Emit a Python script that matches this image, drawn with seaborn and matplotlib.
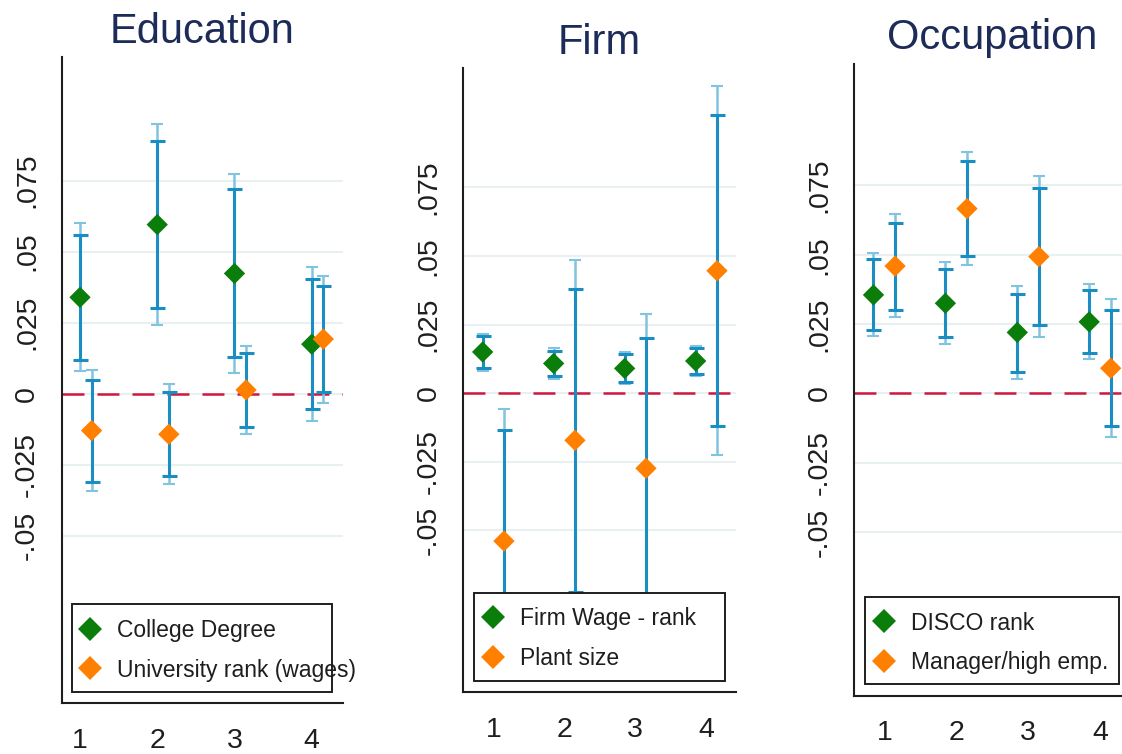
import numpy as np
import pandas as pd
import matplotlib
matplotlib.use("Agg")
import matplotlib.pyplot as plt
from matplotlib.lines import Line2D
from matplotlib.patches import Rectangle
import seaborn as sns

# ---------------------------------------------------------------- data
groups = [1, 2, 3, 4]
group_labels = ["1", "2", "3", "4"]
ytick_vals = [-0.05, -0.025, 0.0, 0.025, 0.05, 0.075]
ytick_labels = ["-.05", "-.025", "0", ".025", ".05", ".075"]
panel_titles = ["Education", "Firm", "Occupation"]

# Education
edu_names = ["College Degree", "University rank (wages)"]
edu_college_est = [0.0339, 0.0595, 0.0423, 0.0174]
edu_college_lo90 = [0.0119, 0.0300, 0.0129, -0.0054]
edu_college_hi90 = [0.0560, 0.0891, 0.0719, 0.0402]
edu_college_lo95 = [0.0078, 0.0242, 0.0073, -0.0095]
edu_college_hi95 = [0.0602, 0.0948, 0.0774, 0.0445]
edu_univ_est = [-0.0130, -0.0143, 0.0013, 0.0192]
edu_univ_lo90 = [-0.0310, -0.0290, -0.0118, 0.0005]
edu_univ_hi90 = [0.0048, 0.0006, 0.0143, 0.0379]
edu_univ_lo95 = [-0.0344, -0.0317, -0.0143, -0.0033]
edu_univ_hi95 = [0.0082, 0.0034, 0.0168, 0.0414]

# Firm
firm_names = ["Firm Wage - rank", "Plant size"]
firm_wage_est = [0.0150, 0.0108, 0.0090, 0.0117]
firm_wage_lo90 = [0.0092, 0.0062, 0.0040, 0.0069]
firm_wage_hi90 = [0.0209, 0.0155, 0.0141, 0.0163]
firm_wage_lo95 = [0.0082, 0.0053, 0.0033, 0.0062]
firm_wage_hi95 = [0.0217, 0.0163, 0.0150, 0.0172]
firm_plant_est = [-0.0539, -0.0172, -0.0274, 0.0446]
firm_plant_lo90 = [-0.0944, -0.0723, -0.0749, -0.0119]
firm_plant_hi90 = [-0.0134, 0.0379, 0.0201, 0.1013]
firm_plant_lo95 = [-0.1019, -0.0828, -0.0837, -0.0225]
firm_plant_hi95 = [-0.0059, 0.0484, 0.0289, 0.1118]

# Occupation
occ_names = ["DISCO rank", "Manager/high emp."]
occ_disco_est = [0.0355, 0.0325, 0.0220, 0.0258]
occ_disco_lo90 = [0.0230, 0.0202, 0.0078, 0.0146]
occ_disco_hi90 = [0.0483, 0.0450, 0.0360, 0.0373]
occ_disco_lo95 = [0.0206, 0.0178, 0.0052, 0.0125]
occ_disco_hi95 = [0.0507, 0.0474, 0.0388, 0.0395]
occ_mgr_est = [0.0459, 0.0666, 0.0493, 0.0091]
occ_mgr_lo90 = [0.0302, 0.0495, 0.0248, -0.0116]
occ_mgr_hi90 = [0.0616, 0.0838, 0.0739, 0.0300]
occ_mgr_lo95 = [0.0274, 0.0463, 0.0203, -0.0156]
occ_mgr_hi95 = [0.0648, 0.0871, 0.0784, 0.0339]

# ---------------------------------------------------------------- style
sns.set_theme(style="white")
plt.rcParams["font.family"] = ["Liberation Sans", "DejaVu Sans"]
plt.rcParams["lines.scale_dashes"] = False

GREEN = "#0b7d0b"
ORANGE = "#ff8000"
CI_DARK = "#1a8dc3"
CI_LIGHT = "#80c4df"
ZERO_RED = "#d0173f"
GRID = "#e8f0f2"
TITLE = "#1c2b58"
INK = "#1e1e1e"

W, H = 1122, 754
fig = plt.figure(figsize=(W / 100, H / 100), dpi=100)
fig.patch.set_facecolor("white")


def fx(px):
    return px / W


def fy(py):
    return 1 - py / H


def frame(left, top, right, bottom):
    return [fx(left), fy(bottom), (right - left) / W, (bottom - top) / H]


def make_long(names, blocks, offsets):
    rows = []
    for name, blk, off in zip(names, blocks, offsets):
        est, lo90, hi90, lo95, hi95 = blk
        for g, e, a, b, c, d in zip(groups, est, lo90, hi90, lo95, hi95):
            rows.append(dict(series=name, group=g, xpos=g + off, est=e,
                             lo90=a, hi90=b, lo95=c, hi95=d))
    return pd.DataFrame(rows)


panels = [
    dict(title=panel_titles[0], names=edu_names,
         blocks=[(edu_college_est, edu_college_lo90, edu_college_hi90, edu_college_lo95, edu_college_hi95),
                 (edu_univ_est, edu_univ_lo90, edu_univ_hi90, edu_univ_lo95, edu_univ_hi95)],
         offsets=[0.0, 0.15],
         box=(61.7, 56.7, 342.7, 703.3), xlim=(0.763, 4.401),
         title_xy=(202, 42.7),
         legend_box=(71.7, 604.3, 332, 692.3), legend_anchor=(78.5, 619.0)),
    dict(title=panel_titles[1], names=firm_names,
         blocks=[(firm_wage_est, firm_wage_lo90, firm_wage_hi90, firm_wage_lo95, firm_wage_hi95),
                 (firm_plant_est, firm_plant_lo90, firm_plant_hi90, firm_plant_lo95, firm_plant_hi95)],
         offsets=[-0.15, 0.15],
         box=(463.3, 67.6, 736.0, 692.3), xlim=(0.5775, 4.418),
         title_xy=(599.5, 54.3),
         legend_box=(474.3, 593.3, 725, 680.7), legend_anchor=(481.9, 607.5)),
    dict(title=panel_titles[2], names=occ_names,
         blocks=[(occ_disco_est, occ_disco_lo90, occ_disco_hi90, occ_disco_lo95, occ_disco_hi95),
                 (occ_mgr_est, occ_mgr_lo90, occ_mgr_hi90, occ_mgr_lo95, occ_mgr_hi95)],
         offsets=[-0.15, 0.15],
         box=(854.3, 64.3, 1130.0, 696.0), xlim=(0.583, 4.418),
         title_xy=(992, 49.0),
         legend_box=(865.3, 596.7, 1118.7, 684.3), legend_anchor=(872.9, 611.5)),
]

for p in panels:
    ax = fig.add_axes(frame(*p["box"]))
    df = make_long(p["names"], p["blocks"], p["offsets"])

    ax.set_xlim(*p["xlim"])
    ax.set_ylim(-0.109, 0.1186)
    ax.set_axisbelow(True)
    ax.yaxis.grid(True, color=GRID, lw=1.5)
    ax.xaxis.grid(False)

    # reference line at zero
    ax.axhline(0, color=ZERO_RED, lw=1.8, linestyle=(0, (15.8, 9.4)), zorder=1.5)

    # confidence intervals: wide (light) under narrow (dark)
    for name in p["names"]:
        d = df[df["series"] == name]
        ax.errorbar(d["xpos"], d["est"], yerr=[d["est"] - d["lo95"], d["hi95"] - d["est"]],
                    fmt="none", ecolor=CI_LIGHT, elinewidth=1.8, capsize=4.3, capthick=1.5,
                    zorder=2)
        ax.errorbar(d["xpos"], d["est"], yerr=[d["est"] - d["lo90"], d["hi90"] - d["est"]],
                    fmt="none", ecolor=CI_DARK, elinewidth=2.2, capsize=5.4, capthick=2.2,
                    zorder=3)

    sns.scatterplot(data=df, x="xpos", y="est", hue="series", hue_order=p["names"],
                    palette=[GREEN, ORANGE], marker="D", s=118, linewidth=0,
                    legend=False, zorder=4, ax=ax)

    ax.set_xlabel("")
    ax.set_ylabel("")
    ax.set_xticks(groups)
    ax.set_xticklabels(group_labels, fontsize=20.5, color=INK)
    ax.set_yticks(ytick_vals)
    ax.set_yticklabels(ytick_labels, fontsize=20.5, color=INK, rotation=90, va="center")
    ax.tick_params(axis="x", direction="out", length=8.6, width=1.3, color=INK, pad=9)
    ax.tick_params(axis="y", direction="out", length=8.6, width=1.3, color=INK, pad=7)
    for side in ("top", "right"):
        ax.spines[side].set_visible(False)
    for side in ("left", "bottom"):
        ax.spines[side].set_color(INK)
        ax.spines[side].set_linewidth(1.5)

    # legend inside the plot region, drawn over a boxed white panel
    lx0, ly0, lx1, ly1 = p["legend_box"]
    box = Rectangle((fx(lx0), fy(ly1)), (lx1 - lx0) / W, (ly1 - ly0) / H,
                    transform=fig.transFigure, facecolor="white", edgecolor=INK,
                    lw=1.4, clip_on=False, zorder=5)
    ax.add_artist(box)
    handles = [Line2D([], [], marker="D", linestyle="none", color=c, markersize=12,
                      markeredgewidth=0) for c in (GREEN, ORANGE)]
    ax_, ay_ = p["legend_anchor"]
    leg = ax.legend(handles, p["names"], loc="upper left",
                    bbox_to_anchor=(fx(ax_), fy(ay_)), bbox_transform=fig.transFigure,
                    frameon=False, fontsize=16.5, handlelength=1.0, handletextpad=0.66,
                    labelspacing=0.72, borderpad=0, borderaxespad=0)
    for t in leg.get_texts():
        t.set_color(INK)
    leg.set_zorder(6)

    fig.text(fx(p["title_xy"][0]), fy(p["title_xy"][1]), p["title"], ha="center",
             va="baseline", fontsize=30, color=TITLE)

fig.savefig("out.png", dpi=100, facecolor="white")
